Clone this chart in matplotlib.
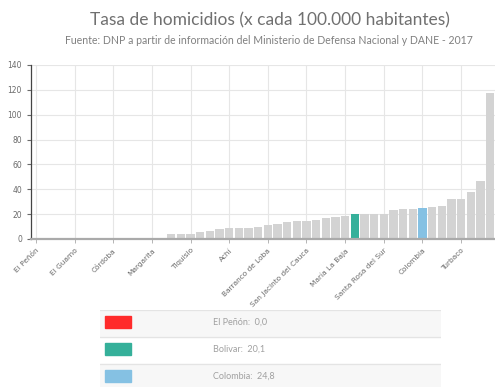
import matplotlib.pyplot as plt
from matplotlib.patches import Rectangle

# Homicide rate per 100,000 inhabitants, sorted ascending (Bolívar municipalities + references)
values = [0.0, 0.0, 0.0, 0.0, 0.0, 0.0, 0.0, 0.0, 0.0, 0.0, 0.0, 0.0, 0.0, 0.0,
          3.8, 4.3, 4.0, 5.4, 6.2, 7.8, 8.6, 9.1, 8.8, 9.9, 11.0, 12.3, 13.7, 14.2,
          14.2, 15.3, 17.2, 17.7, 18.8, 20.1, 20.1, 20.2, 20.2, 23.3, 24.1, 24.1,
          24.8, 25.7, 26.8, 31.9, 32.4, 37.8, 46.9, 117.2]

# every fourth category gets a label
tick_labels = ["El Peñón", "El Guamo", "Córdoba", "Margarita", "Tiquisio", "Achí",
               "Barranco de Loba", "San Jacinto del Cauca", "María La Baja",
               "Santa Rosa del Sur", "Colombia", "Turbaco"]
tick_pos = [i * 4 for i in range(len(tick_labels))]

# highlighted bars: (name, index, colour)
highlights = [("El Peñón", 0, "#ff2b2b"),
              ("Bolivar", 33, "#35b09a"),
              ("Colombia", 40, "#85c1e3")]

base_color = "#d3d3d3"
text_gray = "#6a6a6a"

fig = plt.figure(figsize=(4.95, 3.87), dpi=100)
plt.rcParams['font.family'] = ['Lato', 'DejaVu Sans']

ax = fig.add_axes([31 / 495, 1 - 239 / 387, 464 / 495, 174 / 387])

colors = [base_color] * len(values)
for name, idx, col in highlights:
    colors[idx] = col
ax.bar(range(len(values)), values, width=0.86, color=colors, zorder=3)

ax.set_xlim(-0.5, len(values) - 0.5)
ax.set_ylim(0, 140)
ax.set_yticks(range(0, 141, 20))
ax.set_xticks(tick_pos)
ax.set_xticklabels(tick_labels, rotation=45, ha="right", rotation_mode="anchor",
                   fontsize=5.3, color=text_gray, family="DejaVu Sans")
ax.tick_params(axis="y", labelsize=5.5, colors=text_gray, length=3, width=0.8)
ax.tick_params(axis="x", length=3, width=0.6, color="#aaaaaa", pad=3)
for lab in ax.get_yticklabels():
    lab.set_family("DejaVu Sans")

ax.grid(True, color="#e6e6e6", linewidth=0.8, zorder=0)
for side in ["top", "right"]:
    ax.spines[side].set_visible(False)
ax.spines["left"].set_color("#444444")
ax.spines["left"].set_linewidth(0.9)
ax.spines["bottom"].set_color("#aaaaaa")
ax.spines["bottom"].set_linewidth(1.6)
ax.spines["bottom"].set_zorder(4)

fig.text(0.545, 1 - 20 / 387, "Tasa de homicidios (x cada 100.000 habitantes)",
         ha="center", va="center", fontsize=12.5, color="#707070")
fig.text(0.543, 1 - 40 / 387,
         "Fuente: DNP a partir de información del Ministerio de Defensa Nacional y DANE - 2017",
         ha="center", va="center", fontsize=7.6, color="#808080")

# legend table under the chart
lx = fig.add_axes([100 / 495, 0, 341 / 495, 77 / 387])
lx.set_xlim(0, 341)
lx.set_ylim(77, 0)
lx.axis("off")
row_top = [0, 27, 54]
row_h = 27
for i, (name, idx, col) in enumerate(highlights):
    y0 = row_top[i]
    if i % 2 == 0:
        lx.add_patch(Rectangle((0, y0), 341, row_h, color="#f7f7f7", zorder=0))
    lx.plot([0, 341], [y0, y0], color="#e4e4e4", linewidth=0.9)
    lx.add_patch(Rectangle((5, y0 + 6), 26, 12, color=col, zorder=2))
    val = f"{values[idx]:.1f}".replace(".", ",")
    lx.text(113, y0 + 12, f"{name}:  {val}", ha="left", va="center",
            fontsize=6.5, color="#a0a0a0")

fig.savefig("out.png", dpi=100)
